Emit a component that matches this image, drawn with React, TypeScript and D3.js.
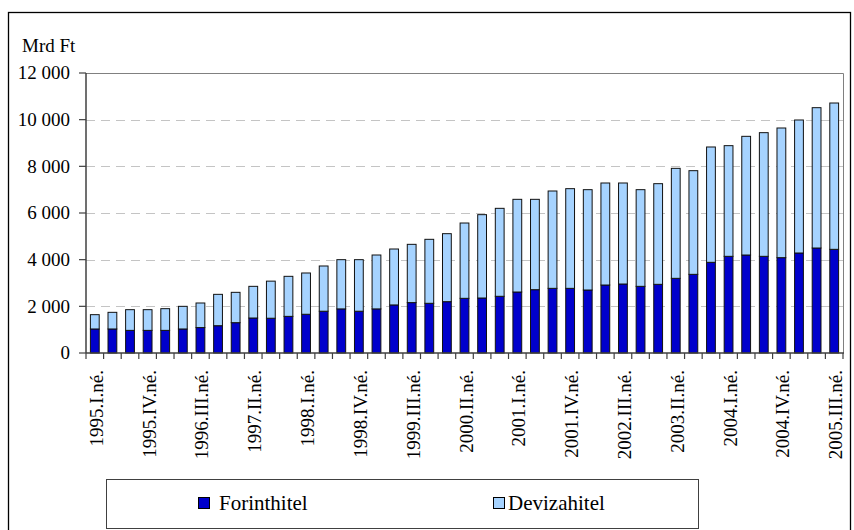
import React from 'react'
import * as d3 from 'd3'

const quarters = [
  '1995.I.né.', '1995.II.né.', '1995.III.né.', '1995.IV.né.',
  '1996.I.né.', '1996.II.né.', '1996.III.né.', '1996.IV.né.',
  '1997.I.né.', '1997.II.né.', '1997.III.né.', '1997.IV.né.',
  '1998.I.né.', '1998.II.né.', '1998.III.né.', '1998.IV.né.',
  '1999.I.né.', '1999.II.né.', '1999.III.né.', '1999.IV.né.',
  '2000.I.né.', '2000.II.né.', '2000.III.né.', '2000.IV.né.',
  '2001.I.né.', '2001.II.né.', '2001.III.né.', '2001.IV.né.',
  '2002.I.né.', '2002.II.né.', '2002.III.né.', '2002.IV.né.',
  '2003.I.né.', '2003.II.né.', '2003.III.né.', '2003.IV.né.',
  '2004.I.né.', '2004.II.né.', '2004.III.né.', '2004.IV.né.',
  '2005.I.né.', '2005.II.né.', '2005.III.né.',
]

// forint loans (Mrd Ft)
const forint = [
  1030, 1030, 970, 970, 970, 1030, 1090, 1170, 1300, 1500, 1490,
  1570, 1660, 1790, 1890, 1790, 1890, 2060, 2160, 2130, 2200, 2343,
  2357, 2430, 2614, 2714, 2771, 2771, 2700, 2914, 2957, 2857, 2943,
  3200, 3371, 3886, 4143, 4200, 4143, 4086, 4286, 4500, 4443,
]

// foreign currency loans (Mrd Ft)
const deviza = [
  613, 713, 887, 887, 930, 970, 1053, 1344, 1300, 1357, 1590,
  1716, 1769, 1939, 2110, 2210, 2310, 2397, 2497, 2742, 2914, 3228,
  3572, 3770, 3972, 3872, 4172, 4272, 4300, 4372, 4329, 4143, 4314,
  4714, 4443, 4943, 4743, 5086, 5300, 5557, 5700, 6014, 6271,
]

const yTicks = [0, 2000, 4000, 6000, 8000, 10000, 12000]
const labelEvery = 3

const W = 854
const H = 530
const PLOT = { left: 86, right: 843, top: 73, bottom: 353 }
const FONT = "'Liberation Serif', 'Times New Roman', Times, 'Noto Serif', 'DejaVu Serif', FreeSerif, Georgia, serif"
const DARK_BLUE = '#0000CC'
const LIGHT_BLUE = '#A6D3FF'

const fmt = (v: number) => d3.format(',')(v).replace(/,/g, ' ')

export default function App() {
  const x = d3
    .scaleBand<string>()
    .domain(quarters)
    .range([PLOT.left, PLOT.right])
    .paddingInner(0.5)
    .paddingOuter(0.25)

  const y = d3.scaleLinear().domain([0, 12000]).range([PLOT.bottom, PLOT.top])

  const rows = quarters.map((q, i) => ({ q, forint: forint[i], deviza: deviza[i] }))
  const series = d3.stack<any>().keys(['forint', 'deviza'])(rows)
  const colors = [DARK_BLUE, LIGHT_BLUE]

  const step = x.step()
  const bounds = d3.range(quarters.length + 1).map((i) => PLOT.left + i * step)
  const txt = { fontFamily: FONT }

  return (
    <svg
      width={W}
      height={H}
      style={{ position: 'absolute', left: 0, top: 0, background: '#fff', fontFamily: FONT }}
    >
      {/* outer frame */}
      <rect x={8.5} y={12.5} width={842} height={540} fill="#fff" stroke="#000" strokeWidth={1.3} />

      {/* gridlines */}
      {yTicks.filter((t) => t > 0 && t < 12000).map((t) => (
        <line
          key={t}
          x1={PLOT.left}
          x2={PLOT.right}
          y1={Math.round(y(t)) + 0.5}
          y2={Math.round(y(t)) + 0.5}
          stroke="#c4c4c4"
          strokeWidth={1}
          strokeDasharray="9,6"
        />
      ))}

      {/* plot border top/right */}
      <path
        d={`M${PLOT.left},${PLOT.top + 0.5}H${PLOT.right + 0.5}V${PLOT.bottom}`}
        fill="none"
        stroke="#808080"
        strokeWidth={1}
      />

      {/* bars */}
      {series.map((s, si) => (
        <g key={si}>
          {s.map((d: any) => (
            <rect
              key={d.data.q}
              x={x(d.data.q)}
              y={y(d[1])}
              width={x.bandwidth()}
              height={y(d[0]) - y(d[1])}
              fill={colors[si]}
              stroke="#111"
              strokeWidth={1}
            />
          ))}
        </g>
      ))}

      {/* y axis */}
      <line x1={PLOT.left} x2={PLOT.left} y1={PLOT.top} y2={PLOT.bottom} stroke="#404040" strokeWidth={1.5} />
      {yTicks.map((t) => (
        <g key={t} transform={`translate(0,${y(t)})`}>
          <line x1={PLOT.left - 7} x2={PLOT.left} stroke="#404040" strokeWidth={1.2} />
          <text x={70} dy="0.34em" textAnchor="end" fontSize={19} fill="#000" style={txt}>
            {fmt(t)}
          </text>
        </g>
      ))}
      <text x={22} y={52} fontSize={19} fill="#000" style={txt}>Mrd Ft</text>

      {/* x axis */}
      <line x1={PLOT.left} x2={PLOT.right + 1} y1={PLOT.bottom} y2={PLOT.bottom} stroke="#404040" strokeWidth={1.5} />
      {bounds.map((bx, i) => (
        <line key={i} x1={bx} x2={bx} y1={PLOT.bottom} y2={PLOT.bottom + 6} stroke="#404040" strokeWidth={1.2} />
      ))}
      {quarters.map((q, i) =>
        i % labelEvery === 0 ? (
          <text
            key={q}
            transform={`translate(${(x(q) as number) + x.bandwidth() / 2 + 8},370) rotate(-90)`}
            textAnchor="end"
            fontSize={19}
            fill="#000"
            style={txt}
          >
            {q}
          </text>
        ) : null
      )}

      {/* legend */}
      <rect x={106.5} y={479.5} width={592} height={49} fill="#fff" stroke="#404040" strokeWidth={1} />
      <rect x={198.5} y={497.5} width={11} height={11} fill={DARK_BLUE} stroke="#000" strokeWidth={1} />
      <text x={219} y={510} fontSize={21} fill="#000" style={txt}>Forinthitel</text>
      <rect x={493.5} y={497.5} width={11} height={11} fill={LIGHT_BLUE} stroke="#000" strokeWidth={1} />
      <text x={508} y={510} fontSize={21} fill="#000" style={txt}>Devizahitel</text>
    </svg>
  )
}
